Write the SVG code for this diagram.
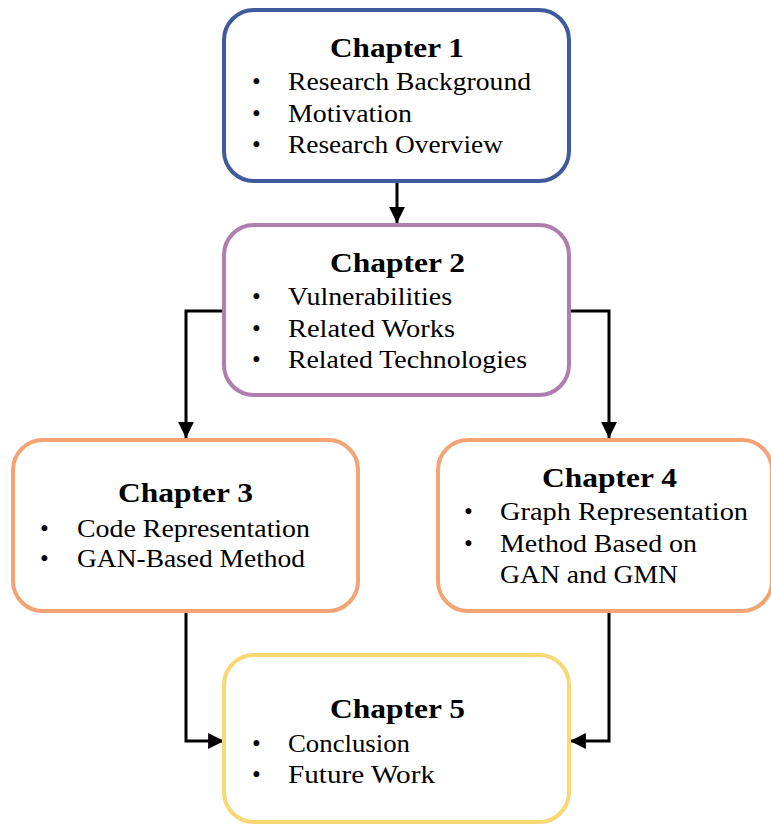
<svg xmlns="http://www.w3.org/2000/svg" width="771" height="825" viewBox="0 0 771 825">
  <style>
    .box { fill: #ffffff; stroke-width: 4; }
    .title { font-family: "Liberation Serif", "DejaVu Serif", serif; font-weight: bold; font-size: 28px; fill: #000; }
    .item { font-family: "Liberation Serif", "DejaVu Serif", serif; font-size: 25px; fill: #000; }
    .bullet { font-family: "Liberation Serif", "DejaVu Serif", serif; font-size: 25px; fill: #000; }
    .link { fill: none; stroke: #000; stroke-width: 3; }
  </style>
  <defs>
    <marker id="arrow" viewBox="0 0 10 10" refX="10" refY="5" markerWidth="5.3" markerHeight="5.3" markerUnits="strokeWidth" orient="auto">
      <path d="M0,0 L10,5 L0,10 Z" fill="#000"/>
    </marker>
  </defs>
  <rect width="771" height="825" fill="#ffffff"/>

  <!-- connectors -->
  <g id="connectors">
    <path class="link" d="M397,182 L397,223" marker-end="url(#arrow)"/>
    <path class="link" d="M224,311 L186,311 L186,438" marker-end="url(#arrow)"/>
    <path class="link" d="M570,311 L609,311 L609,438" marker-end="url(#arrow)"/>
    <path class="link" d="M186,612 L186,741 L224,741" marker-end="url(#arrow)"/>
    <path class="link" d="M609,612 L609,741 L570,741" marker-end="url(#arrow)"/>
  </g>

  <!-- Chapter 1 -->
  <g id="chapter1">
    <rect class="box" x="224" y="10" width="345" height="171" rx="30" stroke="#3F5B9B"/>
    <text class="title" x="330" y="57" textLength="134" lengthAdjust="spacingAndGlyphs">Chapter 1</text>
    <text class="bullet" x="252" y="90">•</text>
    <text class="item" x="288" y="90" textLength="243" lengthAdjust="spacingAndGlyphs">Research Background</text>
    <text class="bullet" x="252" y="122">•</text>
    <text class="item" x="288" y="122" textLength="124" lengthAdjust="spacingAndGlyphs">Motivation</text>
    <text class="bullet" x="252" y="153">•</text>
    <text class="item" x="288" y="153" textLength="215" lengthAdjust="spacingAndGlyphs">Research Overview</text>
  </g>

  <!-- Chapter 2 -->
  <g id="chapter2">
    <rect class="box" x="224" y="225" width="345" height="170" rx="30" stroke="#B07DAF"/>
    <text class="title" x="330" y="272" textLength="135" lengthAdjust="spacingAndGlyphs">Chapter 2</text>
    <text class="bullet" x="252" y="305">•</text>
    <text class="item" x="288" y="305" textLength="164" lengthAdjust="spacingAndGlyphs">Vulnerabilities</text>
    <text class="bullet" x="252" y="337">•</text>
    <text class="item" x="288" y="337" textLength="167" lengthAdjust="spacingAndGlyphs">Related Works</text>
    <text class="bullet" x="252" y="368">•</text>
    <text class="item" x="288" y="368" textLength="239" lengthAdjust="spacingAndGlyphs">Related Technologies</text>
  </g>

  <!-- Chapter 3 -->
  <g id="chapter3">
    <rect class="box" x="13" y="440" width="345" height="171" rx="30" stroke="#F4A474"/>
    <text class="title" x="118" y="502" textLength="135" lengthAdjust="spacingAndGlyphs">Chapter 3</text>
    <text class="bullet" x="40" y="537">•</text>
    <text class="item" x="77" y="537" textLength="233" lengthAdjust="spacingAndGlyphs">Code Representation</text>
    <text class="bullet" x="40" y="567">•</text>
    <text class="item" x="77" y="567" textLength="228" lengthAdjust="spacingAndGlyphs">GAN-Based Method</text>
  </g>

  <!-- Chapter 4 (runs past the right edge of the canvas) -->
  <g id="chapter4">
    <rect class="box" x="438" y="440" width="334" height="171" rx="30" stroke="#F4A474"/>
    <text class="title" x="542" y="487" textLength="135" lengthAdjust="spacingAndGlyphs">Chapter 4</text>
    <text class="bullet" x="464" y="520">•</text>
    <text class="item" x="500" y="520" textLength="248" lengthAdjust="spacingAndGlyphs">Graph Representation</text>
    <text class="bullet" x="464" y="552">•</text>
    <text class="item" x="500" y="552" textLength="197" lengthAdjust="spacingAndGlyphs">Method Based on</text>
    <text class="item" x="500" y="583" textLength="178" lengthAdjust="spacingAndGlyphs">GAN and GMN</text>
  </g>

  <!-- Chapter 5 -->
  <g id="chapter5">
    <rect class="box" x="224" y="655" width="345" height="167" rx="30" stroke="#F9D772"/>
    <text class="title" x="330" y="718" textLength="135" lengthAdjust="spacingAndGlyphs">Chapter 5</text>
    <text class="bullet" x="252" y="752">•</text>
    <text class="item" x="288" y="752" textLength="122" lengthAdjust="spacingAndGlyphs">Conclusion</text>
    <text class="bullet" x="252" y="783">•</text>
    <text class="item" x="288" y="783" textLength="147" lengthAdjust="spacingAndGlyphs">Future Work</text>
  </g>
</svg>
